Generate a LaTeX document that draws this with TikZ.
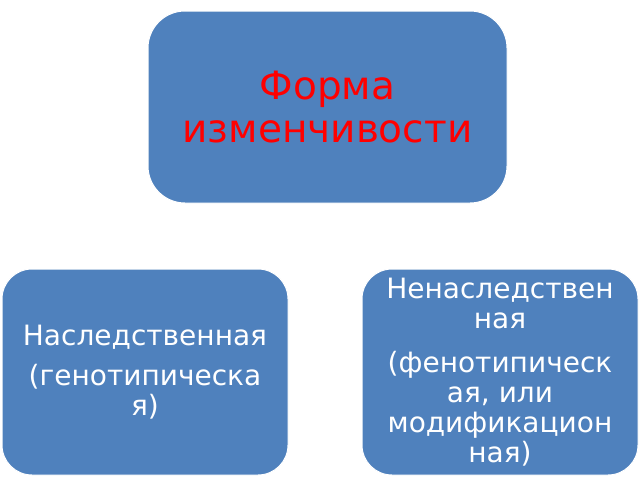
\documentclass[tikz,border=0pt]{standalone}
\usepackage{fontspec}
\setmainfont{DejaVu Sans}
\definecolor{boxblue}{HTML}{4F81BD}
\definecolor{titlered}{HTML}{FF0000}
\begin{document}
\begin{tikzpicture}[x=1pt,y=1pt,
  box/.style={fill=boxblue, draw=white, line width=1pt, align=center, inner sep=0pt},
  bigtext/.style={font=\fontsize{39}{43}\selectfont, text=titlered},
  smalltext/.style={font=\fontsize{28}{30}\selectfont, text=white}]
\useasboundingbox (0,0) rectangle (640,-480);
\fill[white] (0,0) rectangle (640,-480);
\node[box, bigtext, rounded corners=37pt, minimum width=359pt, minimum height=192pt] (top) at (327.5,-107) {Форма\\изменчивости};
\node[box, smalltext, rounded corners=30pt, minimum width=286pt, minimum height=206pt] (left) at (145,-372) {Наследственная\\[10pt](генотипическа\\я)};
\node[box, smalltext, rounded corners=30pt, minimum width=276pt, minimum height=206pt] (right) at (500,-372) {Ненаследствен\\ная\\[14pt](фенотипическ\\ая, или\\модификацион\\ная)};
\end{tikzpicture}
\end{document}
